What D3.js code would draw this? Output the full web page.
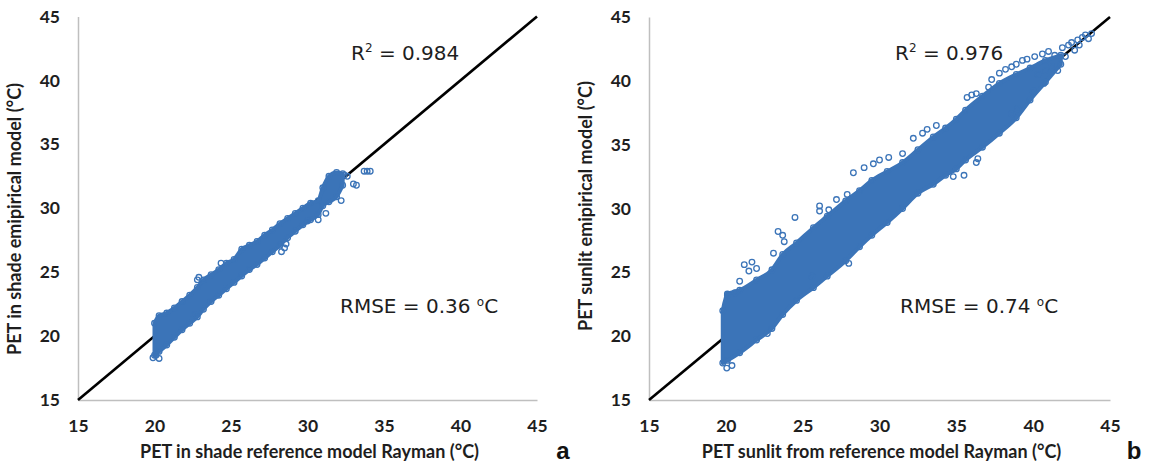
<!DOCTYPE html>
<html>
<head>
<meta charset="utf-8">
<script src="https://cdn.jsdelivr.net/npm/d3@7"></script>
<style>
  body { margin: 0; background: #fff; }
  svg { display: block; }
  .tick text { font-family: Lato, "Open Sans", sans-serif; font-weight: 700; font-size: 17.5px; fill: #1e1e1e; }
  .title { font-family: Lato, "Open Sans", sans-serif; font-weight: 700; font-size: 18px; fill: #1e1e1e; }
  .note { font-family: "DejaVu Sans", Verdana, sans-serif; font-size: 20px; fill: #1e1e1e; }
  .tag { font-family: "Liberation Sans", Arial, sans-serif; font-weight: 700; font-size: 24px; fill: #111; }
</style>
</head>
<body>
<svg width="1149" height="466"></svg>
<script>
// tick values shared by both panels
var ticks = [15, 20, 25, 30, 35, 40, 45];

// panel a: PET in shade - outline of the dense cloud (x, lower y, upper y)
var shadeX  = [20.0, 20.3, 20.8, 21.3, 21.8, 22.3, 22.8, 23.2, 23.7, 24.2, 24.7, 25.2, 25.7, 26.2, 26.7, 27.2, 27.7, 28.2, 28.7, 29.2, 29.7, 30.2, 30.7, 31.0, 31.4, 31.9, 32.3];
var shadeLo = [18.5, 18.8, 19.3, 19.9, 20.5, 21.0, 21.5, 22.1, 22.7, 23.2, 23.7, 24.2, 24.7, 25.2, 25.6, 26.1, 26.6, 27.1, 27.7, 28.2, 28.7, 29.1, 29.5, 30.2, 30.5, 30.9, 31.8];
var shadeHi = [21.0, 21.6, 21.8, 22.2, 22.7, 23.2, 23.8, 24.4, 24.8, 25.2, 25.7, 26.0, 26.8, 27.1, 27.4, 27.9, 28.3, 28.8, 29.2, 29.6, 30.0, 30.4, 30.6, 31.6, 32.5, 32.8, 32.7];
// panel a: loose points outside the cloud
var shadeOutX = [19.9, 20.3, 20.1, 22.9, 22.8, 24.35, 22.6, 28.3, 28.5, 28.6, 30.0, 30.7, 31.2, 32.2, 33.0, 33.2, 33.7, 33.9, 34.1, 32.4, 32.6];
var shadeOutY = [18.3, 18.25, 18.5, 24.6, 24.4, 25.7, 21.65, 26.6, 26.9, 27.2, 29.0, 29.1, 29.6, 30.6, 31.9, 31.8, 32.9, 32.9, 32.9, 32.6, 32.5];

// panel b: PET sunlit - outline of the dense cloud (x, lower y, upper y)
var sunX  = [19.8, 20.1, 20.9, 22.0, 23.0, 23.7, 24.6, 25.7, 26.6, 27.8, 28.7, 29.5, 30.5, 31.5, 32.5, 33.5, 34.3, 35.0, 35.6, 36.7, 37.8, 38.9, 39.8, 40.8, 41.8];
var sunLo = [17.9, 18.1, 18.7, 19.7, 20.6, 21.7, 22.8, 23.8, 24.7, 25.9, 27.0, 27.9, 28.9, 30.0, 31.2, 31.9, 32.6, 33.1, 33.8, 34.8, 35.9, 37.1, 38.5, 39.9, 41.3];
var sunHi = [22.0, 23.3, 23.6, 24.4, 25.2, 26.4, 27.3, 28.5, 29.4, 30.6, 31.4, 32.2, 32.9, 33.6, 34.6, 35.6, 36.3, 37.0, 37.7, 38.8, 39.8, 40.5, 41.0, 41.6, 42.0];
// panel b: loose points outside the cloud
var sunOutX = [20.06, 20.4, 24.5, 23.4, 23.7, 23.8, 23.1, 21.2, 21.7, 22.0, 21.5, 20.9, 20.1, 20.6, 26.1, 26.1, 26.7, 27.2, 27.9, 28.3, 29.0, 29.6, 30.0, 30.6, 31.5, 32.2, 32.8, 33.1, 33.7, 35.7, 36.3, 37.1, 37.8, 38.6, 39.6, 40.6, 41.4, 22.7, 25.6, 28.0, 35.5, 36.4, 36.3, 34.8, 38.6, 40.7, 40.8, 41.6, 42.3, 43.2,
               38.2, 38.9, 39.3, 40.1, 40.3, 41.0, 41.2, 41.9, 42.1, 42.5, 42.7, 42.9, 43.0, 43.4, 43.6, 43.8, 39.0, 40.0, 36.0, 37.3];
var sunOutY = [17.5, 17.7, 29.3, 28.2, 27.9, 27.4, 26.5, 25.6, 25.8, 25.3, 25.1, 24.3, 23.2, 23.4, 30.2, 29.8, 29.9, 30.7, 31.1, 32.8, 33.2, 33.5, 33.8, 34.0, 34.3, 35.5, 35.9, 36.2, 36.5, 38.7, 39.0, 39.5, 40.6, 41.1, 41.7, 42.1, 42.0, 20.2, 24.7, 25.7, 32.6, 33.9, 33.6, 32.5, 37.4, 39.8, 40.8, 40.8, 42.8, 43.4,
               40.9, 41.3, 41.6, 41.9, 40.5, 42.3, 41.1, 42.6, 41.9, 43.0, 42.4, 43.2, 42.8, 43.6, 43.3, 43.7, 37.8, 39.2, 38.9, 40.1];

var blue = "#3b74b8";
var svg = d3.select("svg");

var panels = [
  {x0: 78, x1: 537, y0: 16.5, y1: 400, cx: shadeX, lo: shadeLo, hi: shadeHi, ox: shadeOutX, oy: shadeOutY,
   xTitle: "PET in shade reference model Rayman (°C)", yTitle: "PET in shade emipirical model (°C)", titleY: 219,
   r2: "0.984", rmse: "0.36", r2x: 351, rmsex: 340, tag: "a", tagx: 563},
  {x0: 649, x1: 1110, y0: 17, y1: 400, cx: sunX, lo: sunLo, hi: sunHi, ox: sunOutX, oy: sunOutY,
   xTitle: "PET sunlit from reference model Rayman (°C)", yTitle: "PET sunlit emipirical model (°C)", titleY: 206,
   r2: "0.976", rmse: "0.74", r2x: 895, rmsex: 900, tag: "b", tagx: 1134}
];

panels.forEach(function(p) {
  var x = d3.scaleLinear().domain([15, 45]).range([p.x0, p.x1]);
  var y = d3.scaleLinear().domain([15, 45]).range([p.y1, p.y0]);
  var g = svg.append("g");

  // axes
  var ax = g.append("g")
      .attr("transform", "translate(0," + p.y1 + ")")
      .call(d3.axisBottom(x).tickValues(ticks).tickSize(0).tickPadding(20));
  var ay = g.append("g")
      .attr("transform", "translate(" + p.x0 + ",0)")
      .call(d3.axisLeft(y).tickValues(ticks).tickSize(0).tickPadding(18));
  [ax, ay].forEach(function(a) {
    a.select(".domain").attr("stroke", "#bfbfbf").attr("stroke-width", 1.5);
  });

  // 1:1 line
  g.append("line")
      .attr("x1", x(15)).attr("y1", y(15))
      .attr("x2", x(45)).attr("y2", y(45))
      .attr("stroke", "#000").attr("stroke-width", 2.6);

  // dense cloud
  var pts = p.cx.map(function(v, i) { return {x: v, lo: p.lo[i], hi: p.hi[i]}; });
  var area = d3.area()
      .x(function(d) { return x(d.x); })
      .y0(function(d) { return y(d.lo); })
      .y1(function(d) { return y(d.hi); })
      .curve(d3.curveMonotoneX);
  g.append("path")
      .datum(pts)
      .attr("d", area)
      .attr("fill", blue)
      .attr("stroke", blue)
      .attr("stroke-width", 4)
      .attr("stroke-linejoin", "round");

  // markers on the cloud edge + loose markers
  var marks = [];
  pts.forEach(function(d) {
    marks.push({x: d.x, y: d.lo});
    marks.push({x: d.x, y: d.hi});
  });
  p.ox.forEach(function(v, i) { marks.push({x: v, y: p.oy[i]}); });
  g.selectAll("circle.m")
      .data(marks)
      .enter().append("circle")
      .attr("class", "m")
      .attr("cx", function(d) { return x(d.x); })
      .attr("cy", function(d) { return y(d.y); })
      .attr("r", 2.8)
      .attr("fill", "none")
      .attr("stroke", blue)
      .attr("stroke-width", 1.3);

  // axis titles
  g.append("text")
      .attr("class", "title")
      .attr("x", (p.x0 + p.x1) / 2 + 2)
      .attr("y", 458)
      .attr("text-anchor", "middle")
      .text(p.xTitle);
  g.append("text")
      .attr("class", "title")
      .attr("transform", "translate(" + (p.x0 - 57) + "," + p.titleY + ") rotate(-90)")
      .attr("text-anchor", "middle")
      .text(p.yTitle);

  // annotations
  var t1 = g.append("text").attr("class", "note").attr("x", p.r2x).attr("y", 60);
  t1.append("tspan").text("R");
  t1.append("tspan").attr("font-size", 12).attr("dy", -8).text("2");
  t1.append("tspan").attr("dy", 8).text(" = " + p.r2);

  var t2 = g.append("text").attr("class", "note").attr("x", p.rmsex).attr("y", 313);
  t2.append("tspan").text("RMSE = " + p.rmse + " ");
  t2.append("tspan").attr("font-size", 12).attr("dy", -7).text("o");
  t2.append("tspan").attr("dy", 7).text("C");

  g.append("text")
      .attr("class", "tag")
      .attr("x", p.tagx)
      .attr("y", 459)
      .attr("text-anchor", "middle")
      .text(p.tag);
});
</script>
</body>
</html>
